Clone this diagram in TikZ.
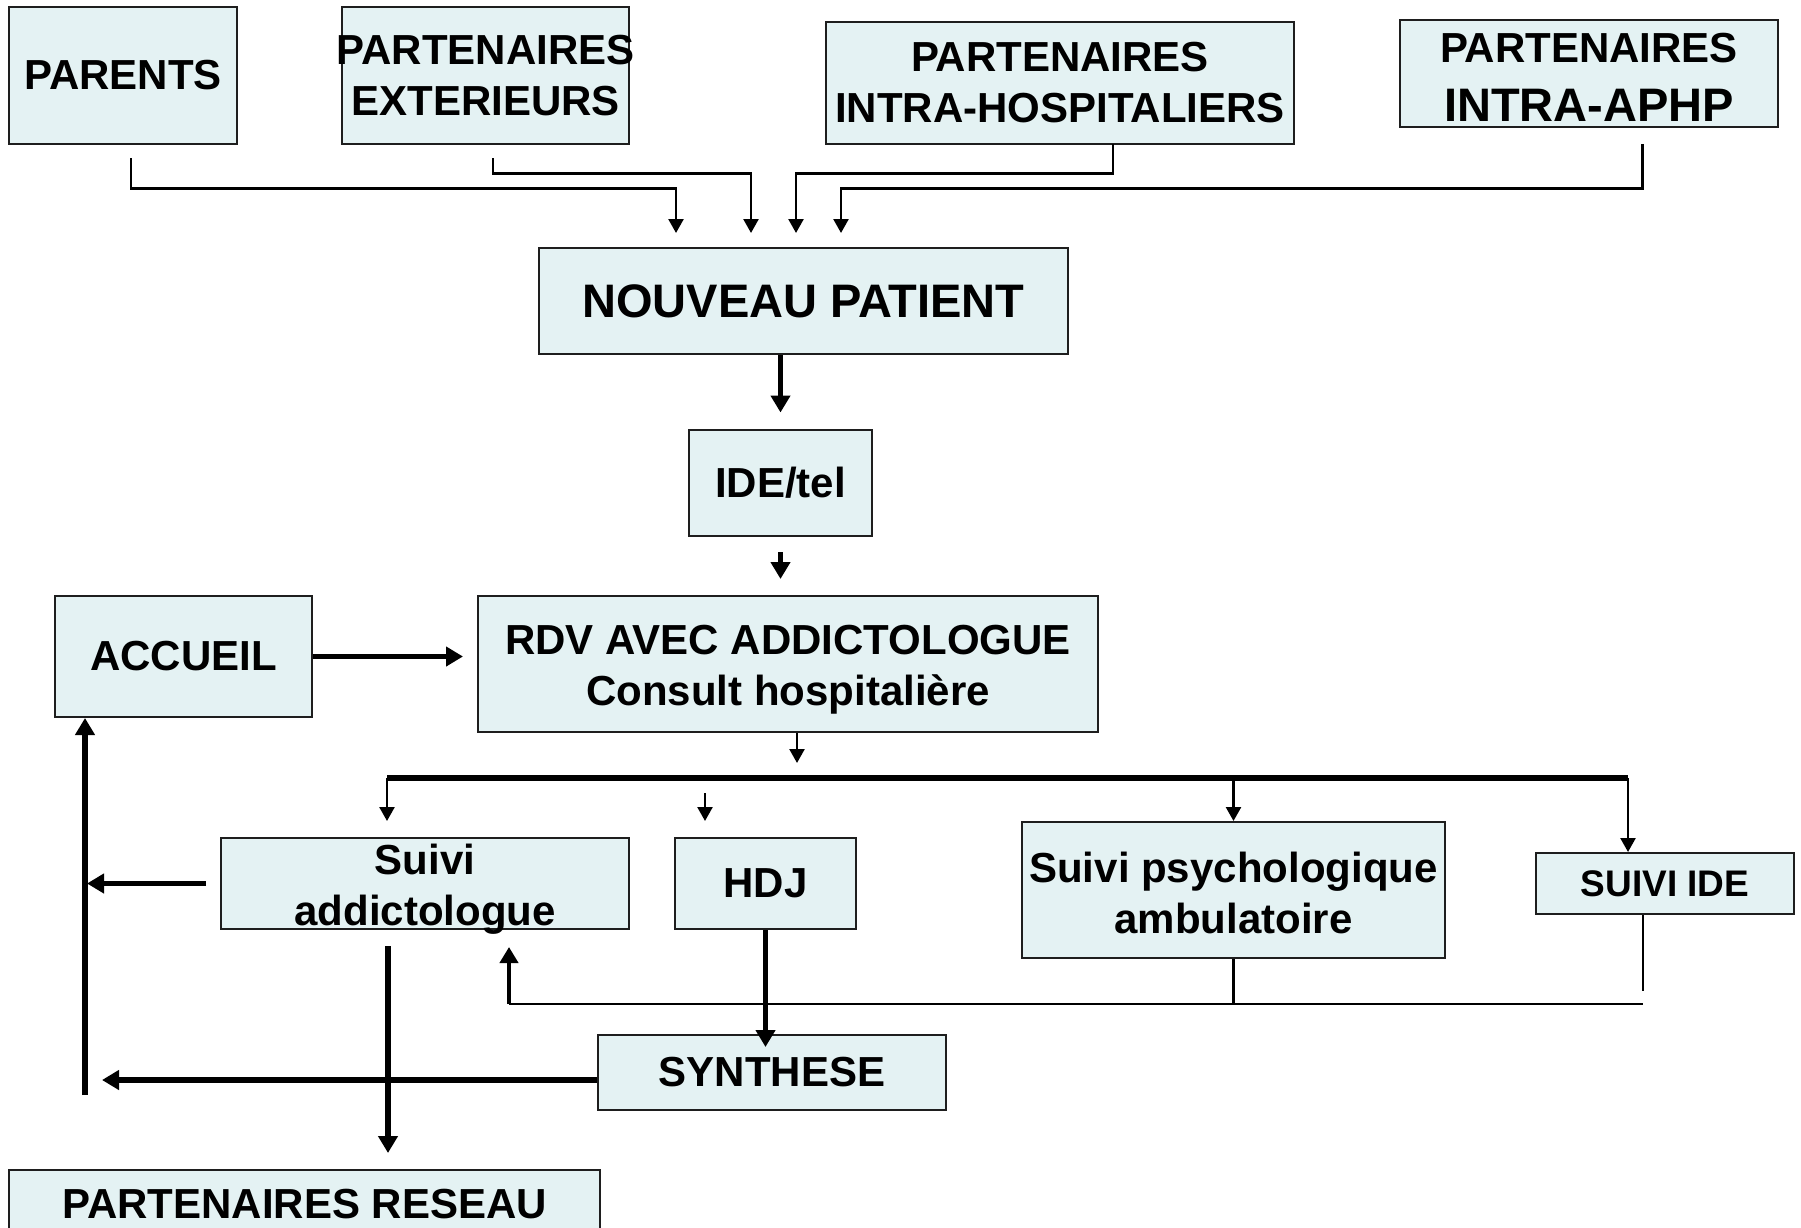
\documentclass[tikz,border=0pt]{standalone}
\usepackage{fontspec}
\setmainfont{Liberation Sans}
\newfontfamily\wf{Liberation Sans}
\usetikzlibrary{arrows.meta,calc}
\definecolor{boxfill}{HTML}{E4F2F3}
\definecolor{boxline}{HTML}{1E1E1E}
\tikzset{
  box/.style={draw=boxline, line width=2, fill=boxfill, inner sep=0, align=center, text=black,
    font=\wf\bfseries\fontsize{42}{51}\selectfont},
  txt/.style={inner sep=0, align=center, text=black, font=\wf\bfseries\fontsize{42}{51}\selectfont},
  thinarr/.style={line width=2.5, -{Triangle[length=14,width=15]}},
  thinln/.style={line width=2.2},
  thickarr/.style={line width=5.5, -{Triangle[length=17,width=19]}},
  medarr/.style={line width=4.5, -{Triangle[length=16,width=18]}},
  bus/.style={line width=5.5},
}
\begin{document}
\begin{tikzpicture}[x=1pt,y=-1pt]
\useasboundingbox (0,0) rectangle (1801,1228);
\clip (0,0) rectangle (1801,1228);
\fill[white] (0,0) rectangle (1801,1228);

% boxes
\node[box, minimum width=228, minimum height=137] (parents) at (123,75.5) {PARENTS};
\node[box, minimum width=287, minimum height=137] (ext) at (485.5,75.5) {};
\node[txt] (exttxt) at (ext.center) {PARTENAIRES\\EXTERIEURS};
\node[box, minimum width=468, minimum height=122] (hosp) at (1060,83) {PARTENAIRES\\INTRA-HOSPITALIERS};
\node[box, minimum width=378, minimum height=107] (aphp) at (1589,73.5) {};
\node[txt] (aphptxt) at (1589,77) {PARTENAIRES\\[8pt]{\fontsize{47}{51}\selectfont INTRA-APHP}};
\node[box, minimum width=529, minimum height=106, font=\wf\bfseries\fontsize{47}{51}\selectfont] (nouveau) at (803.5,301) {NOUVEAU PATIENT};
\node[box, minimum width=183, minimum height=106] (ide) at (780.5,483) {IDE/tel};
\node[box, minimum width=257, minimum height=121] (accueil) at (183.5,656.5) {ACCUEIL};
\node[box, minimum width=620, minimum height=136] (rdv) at (788,664) {};
\node[txt] (rdvtxt) at (788,670) {RDV AVEC ADDICTOLOGUE\\Consult hospitali\`ere};
\node[box, minimum width=408, minimum height=91] (suivi) at (425,883.5) {};
\node[txt] (suivitxt) at (425,889) {Suivi\\addictologue};
\node[box, minimum width=181, minimum height=91] (hdj) at (765.5,883.5) {HDJ};
\node[box, minimum width=423, minimum height=136] (psy) at (1233.5,890) {};
\node[txt] (psytxt) at (1233.5,893) {Suivi psychologique\\ambulatoire};
\node[box, minimum width=258, minimum height=61, font=\wf\bfseries\fontsize{37}{37}\selectfont] (suiviide) at (1665,883.5) {SUIVI IDE};
\node[box, minimum width=348, minimum height=75] (synth) at (772,1072.5) {SYNTHESE};
\node[box, minimum width=591, minimum height=68] (reseau) at (304.5,1204) {PARTENAIRES RESEAU};

% top connectors
\coordinate (pa) at (131,158);
\coordinate (pe) at (493,158);
\coordinate (ph) at (1113,144);
\coordinate (pp) at (1642.5,144);
\coordinate (n1) at (676,233);
\coordinate (n2) at (751,233);
\coordinate (n3) at (796,233);
\coordinate (n4) at (841,233);
\draw[thinarr] (pa) -- (131,188.3) -- (676,188.3) -- (n1);
\draw[thinarr] (pe) -- (493,173.3) -- (751,173.3) -- (n2);
\draw[thinarr] (ph) -- (1113,173.3) -- (796,173.3) -- (n3);
\draw[thinarr] (pp) -- (1642.5,188.3) -- (841,188.3) -- (n4);

% main chain
\draw[thickarr, shorten >=16.5] (nouveau.south -| ide.north) -- (ide.north);
\draw[thickarr, shorten <=15, shorten >=16] (ide.south) -- (ide.south |- rdv.north);
\draw[thickarr, shorten >=14] (accueil.east) -- (accueil.east -| rdv.west);
\coordinate (rdvout) at ([xshift=9]rdv.south);
\draw[thinarr] (rdvout) -- ++(0,30);

% bus
\coordinate (busL) at (387,778);
\coordinate (busR) at (1628,778);
\draw[bus] (busL) -- (busR);
\draw[thinarr, shorten >=16] (busL) -- (busL |- suivi.north);
\draw[thinarr] (psy.north |- busL) -- (psy.north);
\draw[thinarr] (busR) -- (busR |- suiviide.north);
\coordinate (hdjin) at (705,793);
\draw[thinarr, shorten >=16] (hdjin) -- (hdjin |- hdj.north);

% left return
\coordinate (vbot) at (85,1095);
\draw[thickarr] (vbot) -- (vbot |- accueil.south);
\draw[thickarr, shorten <=14, shorten >=2] (suivi.west) -- (vbot |- suivi.west);
\coordinate (synw) at ([yshift=-7.5]synth.west);
\draw[thickarr, shorten >=17] (synw) -- (vbot |- synw);

% down to reseau
\coordinate (sdown) at ([xshift=-37]suivi.south);
\draw[thickarr, shorten <=16, shorten >=16] (sdown) -- (sdown |- reseau.north);

% HDJ to synthese
\draw[thickarr, shorten >=-13] (hdj.south) -- (hdj.south |- synth.north);

% feedback
\coordinate (fbL) at (509,1004);
\coordinate (fbR) at (1643,1004);
\coordinate (sidx) at ([xshift=-22]suiviide.south);
\draw[thinln] (psy.south) -- (psy.south |- fbL);
\draw[thinln] (sidx) -- ++(0,76);
\draw[thinln] (fbL) -- (fbR);
\draw[medarr, shorten >=17] (fbL) -- (fbL |- suivi.south);
\end{tikzpicture}
\end{document}
